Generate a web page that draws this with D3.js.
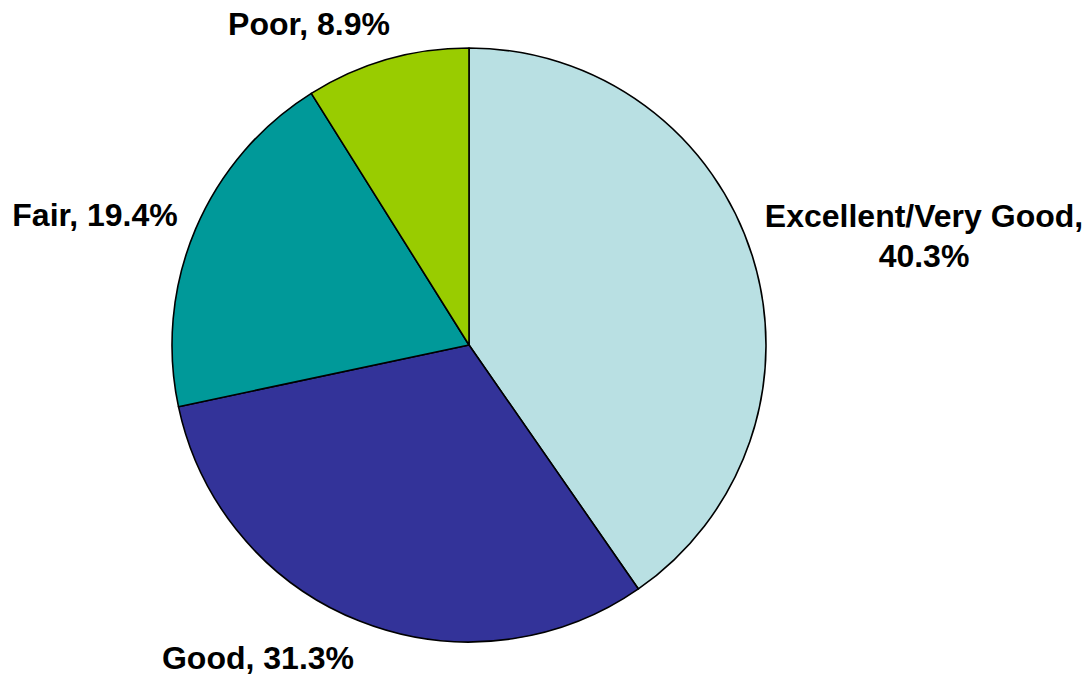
<!DOCTYPE html>
<html><head><meta charset="utf-8">
<script src="https://cdn.jsdelivr.net/npm/d3@7"></script>
<style>body{margin:0;background:#fff}svg{display:block}text{font-family:"Liberation Sans",Arial,sans-serif;font-weight:bold;fill:#000}</style>
</head><body>
<svg id="c" width="1089" height="677"></svg>
<script>
const categories = ["Excellent/Very Good", "Good", "Fair", "Poor"];
const values = [40.3, 31.3, 19.4, 8.9];
const colors = ["#B9E0E3", "#333399", "#009999", "#99CC00"];
const labelLines = [["Excellent/Very Good,", "40.3%"], ["Good, 31.3%"], ["Fair, 19.4%"], ["Poor, 8.9%"]];
const labelPos = [[924, 227], [258, 669], [95, 226], [309, 35]];

const svg = d3.select("#c");
const cx = 469, cy = 345, r = 297;
const pie = d3.pie().sort(null).value(d => d)(values);
const arc = d3.arc().innerRadius(0).outerRadius(r);
const g = svg.append("g").attr("transform", `translate(${cx},${cy})`);
g.selectAll("path").data(pie).join("path")
  .attr("d", arc)
  .attr("fill", (d, i) => colors[i])
  .attr("stroke", "#000").attr("stroke-width", 1.6).attr("stroke-linejoin", "round");

labelLines.forEach((lines, i) => {
  const t = svg.append("text").attr("text-anchor", "middle").attr("font-size", 32)
    .attr("x", labelPos[i][0]).attr("y", labelPos[i][1]);
  lines.forEach((l, j) => t.append("tspan").attr("x", labelPos[i][0]).attr("dy", j ? 40 : 0).text(l));
});
</script>
</body></html>
